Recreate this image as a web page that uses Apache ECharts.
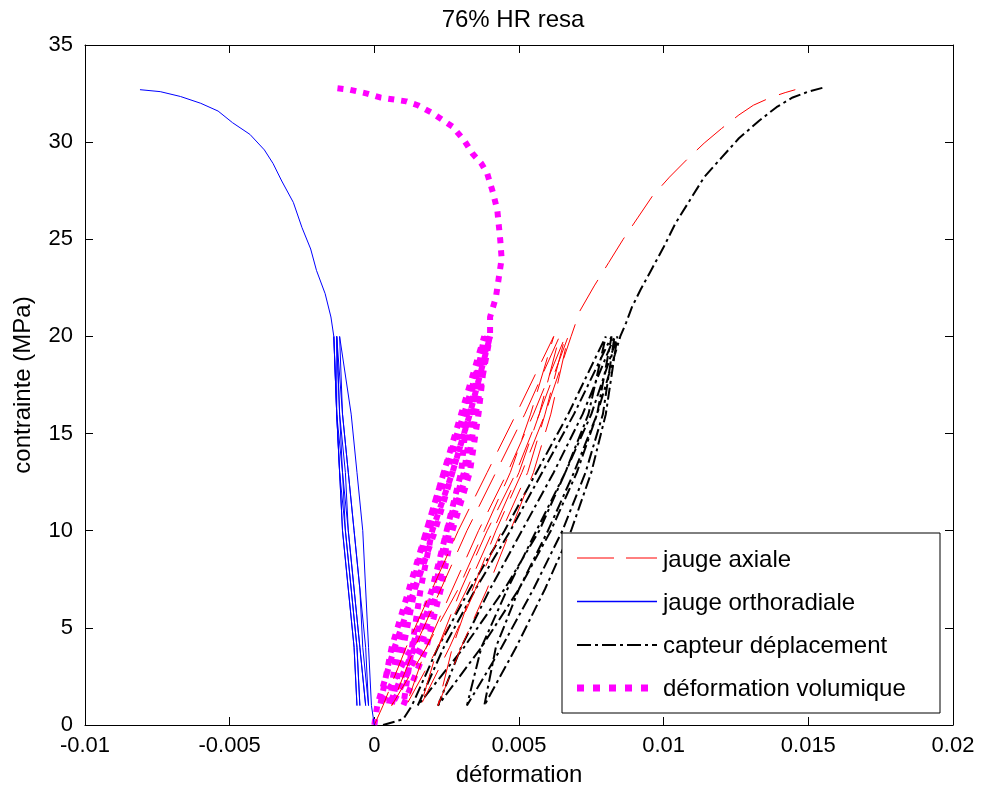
<!DOCTYPE html>
<html>
<head>
<meta charset="utf-8">
<script src="https://cdn.jsdelivr.net/npm/echarts@6/dist/echarts.min.js"></script>
<style>
html,body{margin:0;padding:0;background:#fff;}
#chart{width:982px;height:794px;}
</style>
</head>
<body>
<div id="chart"></div>
<script>
// ---- data (strain, stress in MPa) ----
const chartTitle = '76% HR resa';
const xAxisName = 'déformation';
const yAxisName = 'contrainte (MPa)';
const seriesNames = ['jauge axiale', 'jauge orthoradiale', 'capteur déplacement', 'déformation volumique'];
const xTickLabels = ['-0.01', '-0.005', '0', '0.005', '0.01', '0.015', '0.02'];
const yTickLabels = ['0', '5', '10', '15', '20', '25', '30', '35'];

// jauge axiale
const axialeX = [0, 0.0003,0.0011,0.0020,0.0029,0.0039,0.0049,0.0062,
  0.0054,0.0047,0.0038,0.0029,0.0018,0.0006,
  0.0014,0.0023,0.0032,0.0042,0.0052,0.0064,
  0.0057,0.0050,0.0041,0.0032,0.0022,0.0011,
  0.0018,0.0027,0.0036,0.0046,0.0055,0.0066,
  0.0059,0.0053,0.0044,0.0035,0.0026,0.0016,
  0.0022,0.0030,0.0039,0.0049,0.0057,0.0067,
  0.0061,0.0055,0.0047,0.0039,0.0030,0.0022,
  0.0027,0.0034,0.0042,0.0051,0.0059,0.0068,
  0.0071,0.0076,0.0081,0.0086,0.0091,0.0096,0.0102,0.0108,0.0114,0.0120,0.0126,0.0131,0.0137,0.0142,0.01455];
const axialeY = [0, 1,4,7,10,13,16,20,
  16,13,10,7,4,1,
  4,7,10,13,16,20,
  16,13,10,7,4,1,
  4,7,10,13,16,20,
  16,13,10,7,4,1,
  4,7,10,13,16,20,
  16,13,10,7,4,1,
  4,7,10,13,16,20,
  21.3,22.6,23.8,25.0,26.1,27.2,28.2,29.1,29.95,30.7,31.4,31.9,32.3,32.55,32.7];

// jauge orthoradiale
const orthoX = [0, -0.0001,-0.0002,-0.0003,-0.0004,-0.0006,-0.0008,-0.0012,
  -0.0011,-0.0009,-0.0007,-0.0005,-0.0003,-0.0002,
  -0.0004,-0.0005,-0.0007,-0.0009,-0.0011,-0.0013,
  -0.0012,-0.0010,-0.0009,-0.0007,-0.0005,-0.0003,
  -0.0005,-0.0007,-0.0009,-0.0011,-0.0012,-0.0013,
  -0.0013,-0.0011,-0.0010,-0.0008,-0.0006,-0.0005,
  -0.0006,-0.0008,-0.0010,-0.0012,-0.0013,-0.0014,
  -0.0013,-0.0012,-0.0011,-0.0009,-0.0007,-0.0006,
  -0.0007,-0.0009,-0.0011,-0.0012,-0.0013,-0.0014,
  -0.0015,-0.0017,-0.0020,-0.0022,-0.0025,-0.0028,-0.0032,-0.0035,-0.0038,-0.0043,-0.0049,-0.0054,-0.0060,-0.0067,-0.0074,-0.0081];
const orthoY = [0, 1,4,7,10,13,16,20,
  16,13,10,7,4,1,
  4,7,10,13,16,20,
  16,13,10,7,4,1,
  4,7,10,13,16,20,
  16,13,10,7,4,1,
  4,7,10,13,16,20,
  16,13,10,7,4,1,
  4,7,10,13,16,20,
  21.0,22.2,23.4,24.5,25.6,26.9,28.0,28.9,29.6,30.4,31.0,31.6,32.0,32.35,32.6,32.7];

// capteur déplacement
const capteurX = [0.0003, 0.0010, 0.0013,0.0022,0.0033,0.0045,0.0056,0.0067,0.0080,
  0.0074,0.0066,0.0057,0.0045,0.0031,0.0015,
  0.0024,0.0035,0.0047,0.0058,0.0069,0.0082,
  0.0077,0.0070,0.0061,0.0050,0.0037,0.0022,
  0.0030,0.0040,0.0051,0.0062,0.0072,0.0083,
  0.0079,0.0073,0.0065,0.0055,0.0044,0.0032,
  0.0037,0.0046,0.0056,0.0066,0.0075,0.0084,
  0.0080,0.0075,0.0068,0.0059,0.0049,0.0038,
  0.0042,0.0050,0.0060,0.0069,0.0077,0.0085,
  0.0087,0.0089,0.0092,0.0096,0.0100,0.0104,0.0109,0.0114,0.0120,0.0126,0.0133,0.0139,0.01446,0.0150,0.0155];
const capteurY = [0, 0.3, 1,4,7,10,13,16,20,
  16,13,10,7,4,1,
  4,7,10,13,16,20,
  16,13,10,7,4,1,
  4,7,10,13,16,20,
  16,13,10,7,4,1,
  4,7,10,13,16,20,
  16,13,10,7,4,1,
  4,7,10,13,16,20,
  20.7,21.5,22.4,23.5,24.6,25.8,27.0,28.2,29.2,30.2,31.1,31.8,32.3,32.6,32.8];

// déformation volumique
const volumiqueX = [0, 0.0001,0.0007,0.0014,0.0021,0.0027,0.0033,0.0038,
  0.0032,0.0030,0.0025,0.0020,0.0013,0.0002,
  0.0006,0.0012,0.0018,0.0024,0.0030,0.0038,
  0.0034,0.0031,0.0025,0.0021,0.0014,0.0005,
  0.0008,0.0013,0.0018,0.0024,0.0031,0.0040,
  0.0035,0.0032,0.0026,0.0022,0.0016,0.0006,
  0.0010,0.0014,0.0019,0.0025,0.0031,0.0039,
  0.0036,0.0033,0.0027,0.0023,0.0018,0.0010,
  0.0013,0.0016,0.0020,0.0027,0.0033,0.0040,
  0.0040,0.0042,0.0043,0.0044,0.00435,0.00425,0.0041,0.0039,0.0037,0.0034,0.0031,0.0027,0.0020,0.0015,0.0011,0.0002,-0.00025,-0.00085,-0.0014];
const volumiqueY = [0, 1,4,7,10,13,16,20,
  16,13,10,7,4,1,
  4,7,10,13,16,20,
  16,13,10,7,4,1,
  4,7,10,13,16,20,
  16,13,10,7,4,1,
  4,7,10,13,16,20,
  16,13,10,7,4,1,
  4,7,10,13,16,20,
  21,22,23,24,25,26.5,27.4,28.4,28.9,29.4,30.1,30.8,31.5,31.9,32.1,32.3,32.5,32.7,32.8];

function zip(xs, ys) { return xs.map((x, i) => [x, ys[i]]); }

const FONT = '"Liberation Sans", Arial, Helvetica, sans-serif';
const chart = echarts.init(document.getElementById('chart'), null, {renderer: 'canvas'});

const axisCommon = {
  axisLine: {show: true, onZero: false, lineStyle: {color: '#000', width: 1}},
  axisTick: {show: true, inside: true, length: 8, lineStyle: {color: '#000'}},
  splitLine: {show: false}
};

const seriesStyles = [
  {color: '#ff0000', width: 1, type: [36, 14]},
  {color: '#0000ff', width: 1, type: 'solid'},
  {color: '#000000', width: 2, type: [12, 4, 3, 4]},
  {color: '#ff00ff', width: 6, type: [6, 7], cap: 'butt'}
];
// legend key samples (drawn in the legend box)
const legendKeyStyles = [
  {stroke: '#ff0000', lineWidth: 1, lineDash: [37, 12]},
  {stroke: '#0000ff', lineWidth: 1.3, lineDash: null},
  {stroke: '#000000', lineWidth: 2, lineDash: [14, 4, 3, 4]},
  {stroke: '#ff00ff', lineWidth: 7, lineDash: [7, 9], lineCap: 'butt'}
];
const legendRowY = [558, 601.5, 645, 688];

const option = {
  animation: false,
  backgroundColor: '#fff',
  grid: {left: 85, right: 29, top: 45, bottom: 69, containLabel: false},
  xAxis: [
    Object.assign({
      type: 'value', min: -0.01, max: 0.02, interval: 0.005, position: 'bottom',
      name: xAxisName, nameLocation: 'middle', nameGap: 38,
      nameTextStyle: {fontFamily: FONT, fontSize: 24, color: '#000'},
      axisLabel: {margin: 10, fontFamily: FONT, fontSize: 22, color: '#000',
        formatter: v => xTickLabels[Math.round((v + 0.01) / 0.005)]}
    }, axisCommon),
    Object.assign({
      type: 'value', min: -0.01, max: 0.02, interval: 0.005, position: 'top',
      axisLabel: {show: false}
    }, axisCommon)
  ],
  yAxis: [
    Object.assign({
      type: 'value', min: 0, max: 35, interval: 5, position: 'left',
      name: yAxisName, nameLocation: 'middle', nameGap: 50, nameRotate: 90,
      nameTextStyle: {fontFamily: FONT, fontSize: 24, color: '#000'},
      axisLabel: {margin: 12, fontFamily: FONT, fontSize: 22, color: '#000',
        formatter: v => yTickLabels[Math.round(v / 5)]}
    }, axisCommon),
    Object.assign({
      type: 'value', min: 0, max: 35, interval: 5, position: 'right',
      axisLabel: {show: false}
    }, axisCommon)
  ],
  legend: {
    orient: 'vertical', left: 577, top: 548, padding: 0,
    itemWidth: 80, itemHeight: 20, itemGap: 19,
    textStyle: {fontFamily: FONT, fontSize: 24, color: '#000', lineHeight: 20, padding: [0, 0, 0, 1]},
    itemStyle: {opacity: 0, borderWidth: 0, color: 'rgba(0,0,0,0)'},
    data: seriesNames.map((n, i) => ({name: n, lineStyle: {opacity: 0, width: 0},
      itemStyle: {opacity: 0, borderWidth: 0, color: 'rgba(0,0,0,0)'}})),
    z: 20,
    selectedMode: false
  },
  graphic: [
    {type: 'rect', z: 15, shape: {x: 562, y: 533, width: 378, height: 180},
     style: {fill: '#fff', stroke: '#000', lineWidth: 1}},
    {type: 'text', z: 15, x: 513, y: 20,
     style: {text: chartTitle, font: '24px ' + FONT, fill: '#000', textAlign: 'center', textVerticalAlign: 'middle'}}
  ].concat(legendKeyStyles.map((s, i) => ({
    type: 'line', z: 30, shape: {x1: 577, y1: legendRowY[i], x2: 657, y2: legendRowY[i]},
    style: Object.assign({fill: null}, s)
  }))),
  series: [
    {name: seriesNames[0], type: 'line', data: zip(axialeX, axialeY), symbol: 'none', z: 4,
     lineStyle: seriesStyles[0], itemStyle: {color: '#ff0000'}},
    {name: seriesNames[1], type: 'line', data: zip(orthoX, orthoY), symbol: 'none', z: 5,
     lineStyle: seriesStyles[1], itemStyle: {color: '#0000ff'}},
    {name: seriesNames[2], type: 'line', data: zip(capteurX, capteurY), symbol: 'none', z: 3,
     lineStyle: seriesStyles[2], itemStyle: {color: '#000000'}},
    {name: seriesNames[3], type: 'line', data: zip(volumiqueX, volumiqueY), symbol: 'none', z: 2,
     lineStyle: seriesStyles[3], itemStyle: {color: '#ff00ff'}}
  ]
};
chart.setOption(option);
</script>
</body>
</html>
